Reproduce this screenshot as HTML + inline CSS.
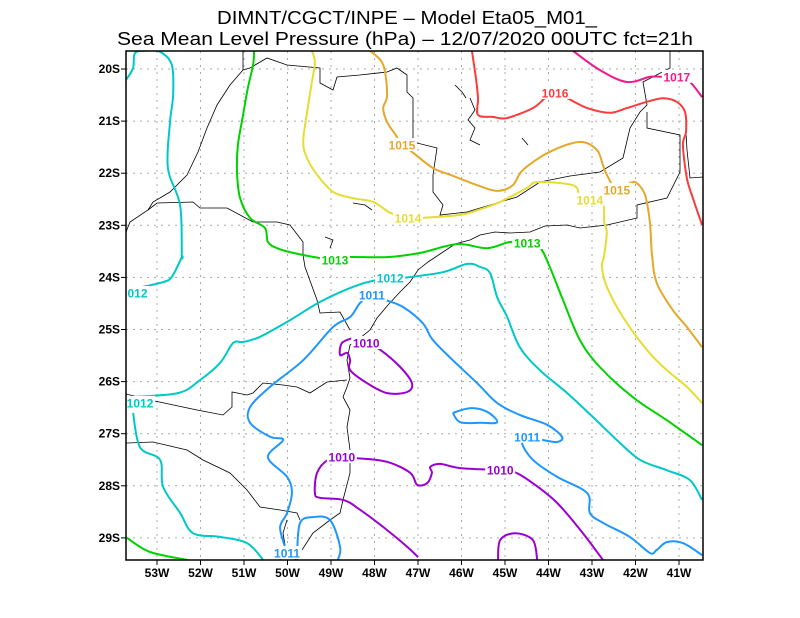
<!DOCTYPE html>
<html><head><meta charset="utf-8"><style>
body{margin:0;background:#fff;}
svg{display:block;font-family:"Liberation Sans","DejaVu Sans",sans-serif;}
.tk{font-size:12px;font-weight:bold;fill:#000;}
.cl{font-size:12px;font-weight:bold;}
</style></head><body>
<svg id="chart" width="800" height="618" viewBox="0 0 800 618">
<text x="407" y="24" text-anchor="middle" font-size="18" textLength="380" lengthAdjust="spacingAndGlyphs">DIMNT/CGCT/INPE –  Model Eta05_M01_</text>
<text x="405" y="45" text-anchor="middle" font-size="18" textLength="576" lengthAdjust="spacingAndGlyphs">Sea Mean Level Pressure (hPa) – 12/07/2020 00UTC fct=21h</text>
<defs><clipPath id="plotclip"><rect x="126" y="51" width="577" height="509"/></clipPath></defs>
<g id="grid"></g>
<g clip-path="url(#plotclip)" fill="none" stroke="#000" stroke-width="0.8">
<path d="M243,51 L243,70 L250,68 L267,58 L287,65 L320,68 L320,83 L333,90 L337,77 L360,75 L387,72 L397,68 L407,75 L407,92 L413,98 L413,132 L413,142 L437,148 L433,175 L433,192 L443,205 L440,215 L467,212 L490,205 L517,197 L540,182 L570,176 L600,172 L623,158 L630,128 L640,112 L647,105 L643,82 L670,68 L670,51"/>
<path d="M647,112 L647,128 L680,135 L680,172 L667,198 L637,205 L637,218 L607,225"/>
<path d="M703,177 L690,178 L687,150 L686,133 M607,225 L580,228 L567,225 L545,226 L530,232 L510,233 L495,232 L480,235 L470,240 L455,244 L440,254 L428,262 L418,270 L410,282 L400,292 L388,305 L377,318 L370,330 L360,338 L350,345 L347,360 L350,378 L347,387 L343,397 L350,410 L347,427 L350,450 L350,473 L343,500 L340,513 L330,520 L313,533 L300,553 L295,560"/>
<path d="M243,70 L230,85 L217,105 L207,128 L198,152 L187,175 L170,192 L153,202 L148,210 L130,222 L126,232"/>
<path d="M148,210 L157,203 L193,202 L200,208 L227,208 L253,222 L277,222 L290,225 L303,242 L303,255 L305,267 L317,300 L320,313 L340,312 L350,330"/>
<path d="M126,394 L150,400 L197,410 L223,415 L232,407 L232,392 L247,395 L253,393 L263,383 L283,385 L297,387 L310,393 L327,382 L347,380"/>
<path d="M126,443 L153,442 L187,450 L203,460 L230,473 L247,490 L260,507 L280,510 L297,513 L300,520 M287,520 L283,533 L285,545 L280,560"/>
<path d="M470,98 L475,110 L468,120 L475,128 L470,140 L480,145 M455,85 L462,92 L466,98 M522,138 L528,145 M353,203 L365,205 L372,210 M325,237 L333,240 L330,248"/>
</g>
<g id="contours" clip-path="url(#plotclip)"></g>
<g id="labels"></g>
<rect x="126" y="51" width="577" height="509" fill="none" stroke="#000" stroke-width="1.5"/>
<g id="ticks"></g>
</svg>
<script>
// axis ticks
const lonTicks = [53,52,51,50,49,48,47,46,45,44,43,42,41];
const latTicks = [20,21,22,23,24,25,26,27,28,29];
// contour levels & colours
const levels = [1010,1011,1012,1013,1014,1015,1016,1017];
const levelColors = {1010:"#9b00d2",1011:"#1e96ff",1012:"#00c8c8",1013:"#00d200",1014:"#e6dc32",1015:"#e6a82a",1016:"#fa3c3c",1017:"#f0198c"};
// contour lines: [lonW, latS] points
const c1012a = [[53.71,20.21],[53.55,19.98],[53.51,19.70],[53.3,19.65],[52.93,19.67],[52.66,19.92],[52.63,20.50],[52.70,21.02],[52.75,21.90],[52.47,22.61],[52.43,23.57],[52.43,23.61],[52.66,23.99],[52.86,24.09],[53.32,24.18],[53.71,24.24]];
const c1012b = [[53.67,26.30],[52.52,26.22],[52.01,25.97],[51.55,25.64],[51.25,25.26],[51.02,25.24],[50.63,25.14],[49.94,24.82],[49.25,24.47],[48.49,24.18],[47.94,24.05],[47.34,24.01],[46.43,23.90],[45.87,23.74],[45.57,23.80],[45.34,23.92],[45.18,24.38],[44.95,24.76],[44.66,25.34],[44.20,25.78],[43.57,26.22],[42.98,26.68],[42.43,27.12],[41.90,27.50],[41.28,27.70],[40.75,27.89],[40.47,28.27]];
const c1012c = [[53.55,26.60],[53.39,27.26],[52.93,27.50],[52.86,28.02],[52.47,28.52],[52.17,28.91],[51.55,28.98],[50.93,29.10],[50.56,29.42]];
const c1013a = [[50.77,19.65],[50.79,19.92],[50.91,20.36],[51.02,20.88],[51.14,21.46],[51.16,21.98],[51.09,22.48],[50.86,22.86],[50.52,23.05],[50.45,23.32],[50.24,23.44],[49.87,23.53],[49.25,23.63],[48.91,23.67],[48.63,23.61],[47.71,23.61],[46.95,23.53],[46.10,23.36],[45.41,23.44],[44.89,23.32],[44.49,23.34],[44.20,23.42],[43.97,23.80],[43.67,24.43],[43.28,25.20],[42.82,25.72],[42.06,26.30],[41.28,26.74],[40.47,27.22]];
const c1013b = [[53.69,29.00],[53.16,29.27],[52.31,29.42]];
const c1014 = [[49.44,19.65],[49.37,19.87],[49.44,20.25],[49.55,20.83],[49.64,21.40],[49.55,21.71],[49.32,22.03],[48.95,22.36],[48.49,22.48],[48.03,22.55],[47.64,22.76],[47.23,22.86],[46.95,22.86],[46.03,22.80],[45.64,22.71],[45.11,22.55],[44.49,22.28],[44.26,22.17],[43.44,22.23],[43.28,22.42],[43.05,22.51],[42.75,22.55],[42.72,22.94],[42.66,23.13],[42.72,23.57],[42.77,23.80],[42.66,24.18],[42.29,24.76],[41.74,25.39],[41.28,25.78],[40.82,26.10],[40.47,26.41]];
const c1015 = [[48.10,19.65],[47.80,19.92],[47.71,20.50],[47.80,20.75],[47.71,21.02],[47.51,21.27],[47.37,21.46],[47.14,21.59],[46.66,21.90],[46.26,22.03],[45.64,22.23],[45.18,22.34],[44.82,22.23],[44.59,21.94],[43.97,21.59],[43.28,21.40],[42.89,21.55],[42.75,21.84],[42.66,22.03],[42.43,22.32],[42.13,22.19],[41.97,22.19],[41.78,22.42],[41.67,22.94],[41.62,23.57],[41.51,24.11],[41.14,24.63],[40.82,24.95],[40.47,25.34]];
const c1016 = [[45.76,19.65],[45.67,20.17],[45.62,20.56],[45.62,20.88],[45.28,20.92],[44.95,20.94],[44.36,20.75],[44.08,20.56],[43.85,20.46],[43.57,20.56],[43.11,20.75],[42.59,20.84],[42.20,20.75],[41.74,20.63],[41.37,20.56],[41.05,20.63],[40.86,20.83],[40.84,21.21],[40.91,21.46],[40.82,22.09],[40.68,22.48],[40.47,22.99]];
const c1017 = [[43.44,19.65],[42.82,20.02],[42.20,20.25],[41.67,20.15],[41.37,20.15],[41.05,20.15],[40.75,20.25],[40.47,20.54]];
const c1011a = [[50.06,29.17],[50.17,28.79],[50.01,28.52],[49.90,28.14],[50.01,27.83],[50.45,27.45],[50.10,27.12],[50.40,27.06],[50.86,26.79],[50.86,26.49],[50.40,26.10],[49.64,25.59],[48.95,24.95],[48.56,24.76],[48.33,24.49],[48.06,24.34],[47.76,24.43],[47.34,24.57],[46.89,24.88],[46.66,25.20],[46.20,25.59],[45.64,26.03],[45.18,26.41],[44.66,26.64],[44.03,26.83],[43.69,27.06],[43.80,27.16],[44.13,27.12],[44.49,27.06],[44.61,27.18],[44.36,27.50],[43.80,27.83],[43.11,28.14],[43.05,28.52],[42.75,28.71],[42.13,28.98],[41.67,29.29],[41.51,29.23],[41.28,29.08],[40.91,29.10],[40.47,29.33]];
const c1011b = [[49.78,29.42],[49.78,29.29],[49.71,28.71],[49.41,28.60],[49.02,28.66],[48.79,29.17],[48.84,29.42]];
const c1011c = [[46.20,26.60],[45.80,26.51],[45.41,26.58],[45.18,26.78],[45.57,26.79],[46.03,26.78],[46.20,26.60]];
const c1010a = [[48.49,25.16],[48.19,25.26],[47.87,25.39],[47.41,25.72],[47.14,26.03],[47.25,26.20],[47.71,26.22],[48.17,26.03],[48.56,25.78],[48.56,25.59],[48.63,25.45],[48.79,25.49],[48.75,25.26],[48.49,25.16]];
const c1010b = [[47.00,29.37],[47.25,29.17],[47.71,28.85],[48.33,28.46],[48.72,28.27],[49.25,28.23],[49.37,28.14],[49.32,27.75],[49.07,27.50],[48.75,27.45],[48.40,27.47],[47.71,27.54],[47.18,27.75],[47.02,27.98],[46.79,27.95],[46.68,27.75],[46.72,27.64],[46.49,27.58],[46.03,27.66],[45.11,27.70],[44.77,27.74],[44.36,27.95],[43.80,28.33],[43.21,28.91],[42.75,29.42]];
const c1010c = [[45.16,29.42],[45.11,29.04],[44.77,28.91],[44.36,29.04],[44.26,29.42]];
const contourLines = [[1012,c1012a],[1012,c1012b],[1012,c1012c],[1013,c1013a],[1013,c1013b],[1014,c1014],[1015,c1015],[1016,c1016],[1017,c1017],[1011,c1011a],[1011,c1011b],[1011,c1011c],[1010,c1010a],[1010,c1010b],[1010,c1010c]];
// labels
const labelLevels = [1012,1012,1012,1013,1013,1014,1014,1015,1015,1016,1017,1011,1011,1011,1010,1010,1010];
const labelLon = [53.46,47.64,53.39,48.91,44.49,47.23,43.05,47.37,42.43,43.85,41.05,48.06,44.49,50.01,48.19,48.75,45.11];
const labelLat = [24.30,24.01,26.41,23.67,23.34,22.86,22.51,21.46,22.32,20.46,20.15,24.34,27.06,29.29,25.26,27.45,27.70];

const NS="http://www.w3.org/2000/svg";
function xS(lonW){return 157+(53-lonW)*43.5;}
function yS(latS){return 69+(latS-20)*52.1;}
function smoothPath(P){
  let d='M'+P[0][0].toFixed(1)+','+P[0][1].toFixed(1);
  for(let i=0;i<P.length-1;i++){
    const p0=P[Math.max(i-1,0)],p1=P[i],p2=P[i+1],p3=P[Math.min(i+2,P.length-1)];
    const c1x=p1[0]+(p2[0]-p0[0])/6,c1y=p1[1]+(p2[1]-p0[1])/6;
    const c2x=p2[0]-(p3[0]-p1[0])/6,c2y=p2[1]-(p3[1]-p1[1])/6;
    d+=' C'+c1x.toFixed(1)+','+c1y.toFixed(1)+' '+c2x.toFixed(1)+','+c2y.toFixed(1)+' '+p2[0].toFixed(1)+','+p2[1].toFixed(1);
  }
  return d;
}
const grid=document.getElementById('grid'),ticks=document.getElementById('ticks');
lonTicks.forEach(l=>{
  const x=xS(l);
  const g=document.createElementNS(NS,'line');
  g.setAttribute('x1',x);g.setAttribute('x2',x);g.setAttribute('y1',51);g.setAttribute('y2',560);
  g.setAttribute('stroke','#aaa');g.setAttribute('stroke-dasharray','2,5');
  
  
  grid.appendChild(g);
  const t=document.createElementNS(NS,'line');
  t.setAttribute('x1',x);t.setAttribute('x2',x);t.setAttribute('y1',560);t.setAttribute('y2',565);t.setAttribute('stroke','#000');
  
  
  ticks.appendChild(t);
  const s=document.createElementNS(NS,'text');
  s.setAttribute('x',x);s.setAttribute('y',577);s.setAttribute('text-anchor','middle');s.setAttribute('class','tk');
  s.textContent=l+'W';
  
  
  ticks.appendChild(s);
});
latTicks.forEach(l=>{
  const y=yS(l);
  const g=document.createElementNS(NS,'line');
  g.setAttribute('x1',126);g.setAttribute('x2',703);g.setAttribute('y1',y);g.setAttribute('y2',y);
  g.setAttribute('stroke','#aaa');g.setAttribute('stroke-dasharray','2,5');
  
  
  grid.appendChild(g);
  const t=document.createElementNS(NS,'line');
  t.setAttribute('x1',121);t.setAttribute('x2',126);t.setAttribute('y1',y);t.setAttribute('y2',y);t.setAttribute('stroke','#000');
  
  
  ticks.appendChild(t);
  const s=document.createElementNS(NS,'text');
  s.setAttribute('x',120);s.setAttribute('y',y+4);s.setAttribute('text-anchor','end');s.setAttribute('class','tk');
  s.textContent=l+'S';
  
  
  ticks.appendChild(s);
});
const cg=document.getElementById('contours');
contourLines.forEach(([lev,pts])=>{
  const p=document.createElementNS(NS,'path');
  p.setAttribute('d',smoothPath(pts.map(q=>[xS(q[0]),yS(q[1])])));
  p.setAttribute('fill','none');p.setAttribute('stroke',levelColors[lev]);p.setAttribute('stroke-width','2');
  p.setAttribute('stroke-linejoin','round');
  
  
  cg.appendChild(p);
});
const lg=document.getElementById('labels');
labelLevels.forEach((lev,i)=>{
  const x=xS(labelLon[i]),y=yS(labelLat[i]);
  let txt=String(lev);
  if(i===0) txt='012';
  const w=txt.length*7;
  let cx=x;
  if(i===0) cx=126+w/2+1;
  const r=document.createElementNS(NS,'rect');
  r.setAttribute('x',cx-w/2-1);r.setAttribute('y',y-7);r.setAttribute('width',w+2);r.setAttribute('height',13);r.setAttribute('fill','#fff');
  
  
  lg.appendChild(r);
  const t=document.createElementNS(NS,'text');
  t.setAttribute('x',cx);t.setAttribute('y',y+4.5);t.setAttribute('text-anchor','middle');t.setAttribute('class','cl');
  t.setAttribute('fill',levelColors[lev]);
  t.textContent=txt;
  
  
  lg.appendChild(t);
});
</script>
</body></html>
